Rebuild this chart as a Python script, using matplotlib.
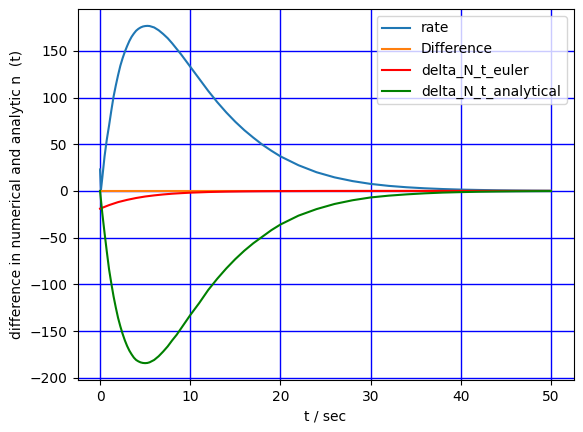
import numpy as np, matplotlib
matplotlib.use("Agg")
import matplotlib.pyplot as plt

# values
t_rate = [0, 0.1, 0.25, 0.5, 0.75, 1, 1.25, 1.5, 1.75, 2, 2.25, 2.5, 2.75, 3, 3.25, 3.5,
          3.75, 4, 4.25, 4.5, 4.75, 5, 5.25, 5.5, 6, 6.5, 7, 7.5, 8, 8.5, 9, 9.5, 10,
          10.5, 11, 11.5, 12, 13, 14, 15, 16, 17, 18, 19, 20, 22, 24, 26, 28, 30, 32,
          34, 36, 38, 40, 42, 44, 46, 48, 50]
rate = [23, 1, 14, 37, 55, 70, 86, 101, 113, 124, 134, 142, 149, 155, 160.5, 165,
        168.5, 171.5, 173.5, 175, 176, 176.5, 176.7, 176.5, 175, 172, 168, 163.5, 158,
        152, 146, 139.5, 133, 126.5, 120, 113.5, 107, 95, 84, 74, 65, 57, 49.5, 43, 37,
        27.5, 20, 14.5, 10.5, 7.5, 5.4, 3.9, 2.8, 2.0, 1.4, 1.0, 0.7, 0.5, 0.35, 0.25]

t_diff = [0, 10, 20, 30, 40, 50]
difference = [0, 0, 0, 0, 0, 0]

t_euler = [0, 1, 2, 3, 4, 5, 6, 7, 8, 9, 10, 12, 14, 16, 18, 20, 25, 30, 40, 50]
delta_euler = [-19, -15.2, -12, -9.6, -7.6, -6, -4.8, -3.8, -3.0, -2.4, -1.9, -1.2,
               -0.76, -0.48, -0.3, -0.19, -0.06, -0.02, 0, 0]

t_an = [0, 0.25, 0.5, 0.75, 1, 1.25, 1.5, 1.75, 2, 2.25, 2.5, 2.75, 3, 3.25, 3.5, 3.75,
        4, 4.25, 4.5, 4.75, 5, 5.25, 5.5, 6, 6.5, 7, 7.5, 8, 8.5, 9, 9.5, 10, 10.5, 11,
        11.5, 12, 13, 14, 15, 16, 17, 18, 19, 20, 22, 24, 26, 28, 30, 32, 34, 36, 38,
        40, 42, 44, 46, 48, 50]
delta_an = [0, -24, -45, -65, -84, -99, -113, -125, -136, -145, -153, -160, -166, -171,
            -175, -178.5, -181, -182.5, -183.6, -184.2, -184.4, -184.2, -183.5, -181,
            -177, -172, -166.5, -160, -154, -147, -140, -133, -126.5, -120, -113, -106,
            -94, -83, -73, -64, -56, -49, -42, -36, -26.5, -19.5, -14, -10, -7, -5.1,
            -3.7, -2.6, -1.8, -1.3, -0.9, -0.65, -0.45, -0.3, -0.2]

fig = plt.figure(figsize=(5.83, 4.32), dpi=100)
ax = fig.add_axes([77.5/583, 52/432, 496/583, 371/432])
ax.plot(t_rate, rate, label="rate")
ax.plot(t_diff, difference, label="Difference")
ax.plot(t_euler, delta_euler, color="r", label="delta_N_t_euler")
ax.plot(t_an, delta_an, color="g", label="delta_N_t_analytical")
ax.grid(color="b", lw=1)
ax.set_xlabel("t / sec")
ax.set_ylabel("difference in numerical and analytic n  (t)")
ax.legend(loc="upper right")
fig.savefig("out.png", dpi=100)
